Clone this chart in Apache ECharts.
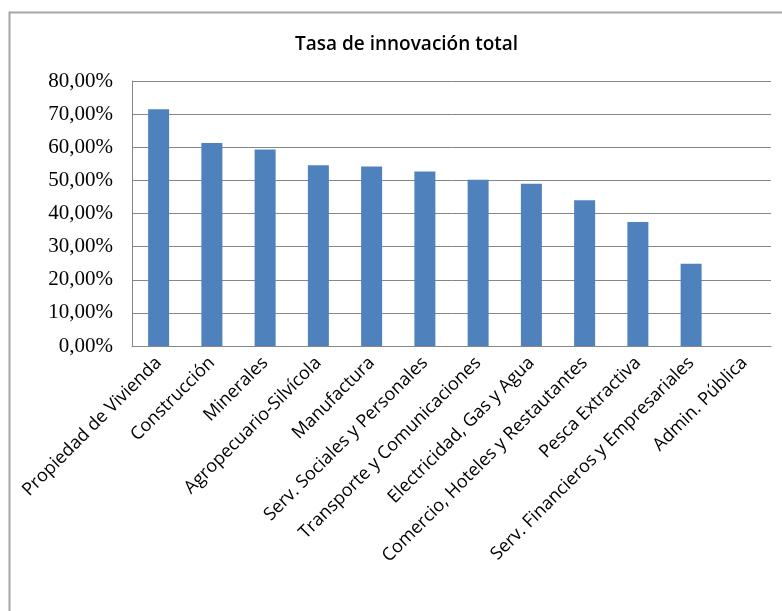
<!DOCTYPE html>
<html>
<head>
<meta charset="utf-8">
<script src="https://cdn.jsdelivr.net/npm/echarts@6/dist/echarts.min.js"></script>
<style>
  html, body { margin: 0; padding: 0; background: #fff; }
  #chart { width: 782px; height: 611px; }
</style>
</head>
<body>
<div id="chart"></div>
<script>
// Sectores económicos
const categories = [
  'Propiedad de Vivienda',
  'Construcción',
  'Minerales',
  'Agropecuario-Silvícola',
  'Manufactura',
  'Serv. Sociales y Personales',
  'Transporte y Comunicaciones',
  'Electricidad, Gas y Agua',
  'Comercio, Hoteles y Restautantes',
  'Pesca Extractiva',
  'Serv. Financieros y Empresariales',
  'Admin. Pública'
];

// Tasa de innovación (%)
const tasaInnovacion = [71.5, 61.3, 59.3, 54.6, 54.2, 52.7, 50.2, 49.0, 44.0, 37.4, 24.8, 0];

// Eje Y: 0,00% a 80,00%
const yTicks = [0, 10, 20, 30, 40, 50, 60, 70, 80];

const chart = echarts.init(document.getElementById('chart'), null, { renderer: 'canvas' });

const fmtPct = v => v.toFixed(2).replace('.', ',') + '%';

chart.setOption({
  animation: false,
  backgroundColor: '#ffffff',
  graphic: [{
    type: 'rect',
    left: 7,
    top: 10,
    shape: { x: 0, y: 0, width: 800, height: 640 },
    style: { fill: 'none', stroke: '#a6a6a6', lineWidth: 2 },
    silent: true,
    z: -1
  }],
  title: {
    text: 'Tasa de innovación total',
    left: 290,
    top: 30,
    textStyle: {
      fontFamily: 'Open Sans',
      fontWeight: 600,
      fontSize: 19,
      color: '#000'
    }
  },
  grid: {
    left: 132,
    right: 11,
    top: 81,
    bottom: 265
  },
  xAxis: {
    type: 'category',
    data: categories,
    axisLine: { show: true, lineStyle: { color: '#868686', width: 1 } },
    axisTick: { show: false },
    axisLabel: {
      interval: 0,
      rotate: 45,
      margin: 14,
      fontFamily: 'Open Sans',
      fontSize: 18,
      color: '#000'
    }
  },
  yAxis: {
    type: 'value',
    min: yTicks[0],
    max: yTicks[yTicks.length - 1],
    interval: yTicks[1] - yTicks[0],
    axisLine: { show: true, lineStyle: { color: '#868686', width: 1 } },
    axisTick: { show: false },
    splitLine: { show: true, lineStyle: { color: '#868686', width: 1 } },
    axisLabel: {
      formatter: fmtPct,
      margin: 19,
      fontFamily: 'Liberation Serif',
      fontSize: 21,
      color: '#000'
    }
  },
  series: [{
    type: 'bar',
    data: tasaInnovacion,
    barWidth: 21,
    itemStyle: { color: '#4f81bd' }
  }]
});
</script>
</body>
</html>
